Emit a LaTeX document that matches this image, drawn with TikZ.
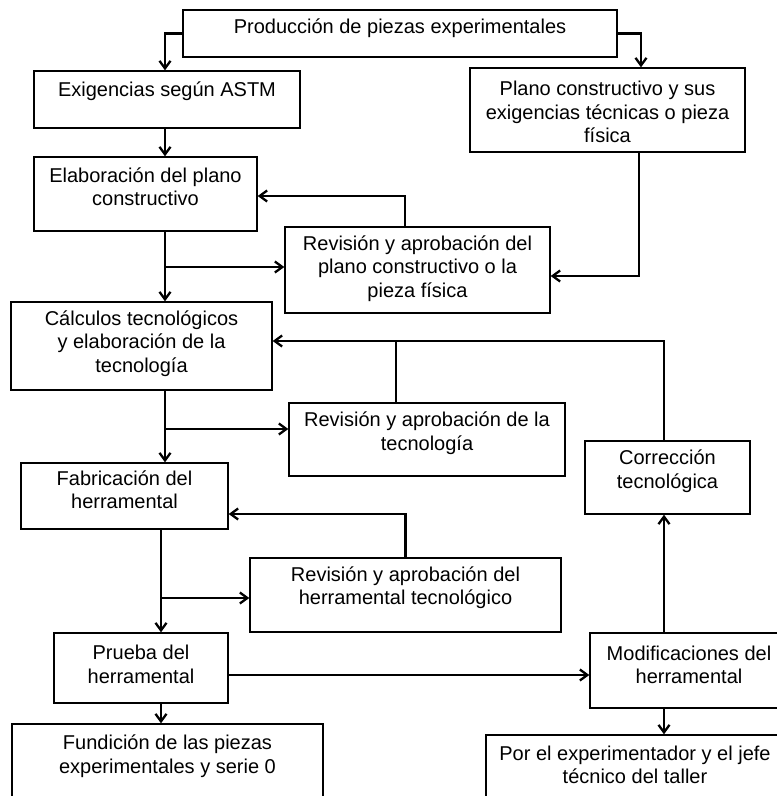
\documentclass[tikz,border=0pt]{standalone}
\usepackage{fontspec}
\setmainfont{Liberation Sans}
\usetikzlibrary{arrows.meta}
\begin{document}
\begin{tikzpicture}[x=1pt,y=-1pt,
  box/.style={draw, line width=1.4pt, inner sep=0pt},
  txt/.style={align=center, inner sep=0pt, font=\fontsize{20}{23.5}\selectfont},
  arr/.style={line width=2.3pt, -{Straight Barb[length=7.5pt,width=11pt]}},
  ln/.style={line width=2.3pt}]
\useasboundingbox[fill=white] (0,0) rectangle (777,796);
% boxes
\node[box, minimum width=434pt, minimum height=47pt] (top) at (400,33.5) {};
\node[box, minimum width=266pt, minimum height=57pt] (exig) at (167,99.5) {};
\node[box, minimum width=275pt, minimum height=84pt] (plano) at (607.5,110) {};
\node[box, minimum width=223pt, minimum height=74pt] (elab) at (145.5,194) {};
\node[box, minimum width=265pt, minimum height=86pt] (rev1) at (417.5,270) {};
\node[box, minimum width=261pt, minimum height=88pt] (calc) at (141.5,346) {};
\node[box, minimum width=276pt, minimum height=73pt] (rev2) at (427,439.5) {};
\node[box, minimum width=165pt, minimum height=73pt] (corr) at (667.5,477.5) {};
\node[box, minimum width=207pt, minimum height=66pt] (fab) at (124.5,496) {};
\node[box, minimum width=311pt, minimum height=74pt] (rev3) at (405.5,595) {};
\node[box, minimum width=174pt, minimum height=70pt] (prueba) at (141,668) {};
\node[box, minimum width=200pt, minimum height=75pt] (mod) at (690,670.5) {};
\node[box, minimum width=311pt, minimum height=86pt] (fund) at (167.5,767) {};
\node[box, minimum width=298pt, minimum height=85pt] (porel) at (635,777.5) {};
% texts
\node[txt] (ttop) at (400,28) {Producción de piezas experimentales};
\node[txt] (texig) at (167,91) {Exigencias según ASTM};
\node[txt] (tplano) at (607.5,112) {Plano constructivo y sus\\exigencias técnicas o pieza\\física};
\node[txt] (telab) at (145.5,186.5) {Elaboración del plano\\constructivo};
\node[txt] (trev1) at (417.5,268.5) {Revisión y aprobación del\\plano constructivo o la\\pieza física};
\node[txt] (tcalc) at (141.5,343.5) {Cálculos tecnológicos\\y elaboración de la\\tecnología};
\node[txt] (trev2) at (427,433) {Revisión y aprobación de la\\tecnología};
\node[txt] (tcorr) at (667.5,471) {Corrección\\tecnológica};
\node[txt] (tfab) at (124.5,489.5) {Fabricación del\\herramental};
\node[txt] (trev3) at (405.5,587.5) {Revisión y aprobación del\\herramental tecnológico};
\node[txt] (tprueba) at (141,664.5) {Prueba del\\herramental};
\node[txt] (tmod) at (689,665) {Modificaciones del\\herramental};
\node[txt] (tfund) at (167.5,756) {Fundición de las piezas\\experimentales y serie 0};
\node[txt] (tporel) at (635,765) {Por el experimentador y el jefe\\técnico del taller};
% helper coordinates
\coordinate (colA) at (165,0);
\coordinate (colB) at (161,0);
\coordinate (colD) at (664,0);
\coordinate (xr2) at (396,0);
\coordinate (xp) at (641,0);
\coordinate (xp2) at (639,0);
\coordinate (xr1) at (405,0);
\coordinate (fbY) at (0,341);
\coordinate (j1) at (165,267);
\coordinate (j2) at (165,429);
\coordinate (j3) at (161,598);
\coordinate (j4) at (228,675);
\coordinate (y1) at (0,196);
\coordinate (y2) at (0,276);
\coordinate (y3) at (0,514);
% connectors
\draw[arr] (top.west) -| (colA |- exig.north);
\draw[arr] (top.east) -| (xp |- plano.north);
\draw[arr] (colA |- exig.south) -- (colA |- elab.north);
\draw[arr] (colA |- elab.south) -- (colA |- calc.north);
\draw[arr] (j1) -- (j1 -| rev1.west);
\draw[arr] (xr1 |- rev1.north) |- (y1 -| elab.east);
\draw[arr] (xp2 |- plano.south) |- (y2 -| rev1.east);
\draw[arr] (colA |- calc.south) -- (colA |- fab.north);
\draw[arr] (j2) -- (j2 -| rev2.west);
\draw[arr] (colD |- corr.north) |- (fbY -| calc.east);
\draw[ln] (xr2 |- rev2.north) -- (xr2 |- fbY);
\draw[arr] (colB |- fab.south) -- (colB |- prueba.north);
\draw[arr] (j3) -- (j3 -| rev3.west);
\draw[arr] (rev3.north) |- (y3 -| fab.east);
\draw[arr] (colB |- prueba.south) -- (colB |- fund.north);
\draw[arr] (j4) -- (j4 -| mod.west);
\draw[arr] (colD |- mod.north) -- (colD |- corr.south);
\draw[arr] (colD |- mod.south) -- (colD |- porel.north);
\end{tikzpicture}
\end{document}
